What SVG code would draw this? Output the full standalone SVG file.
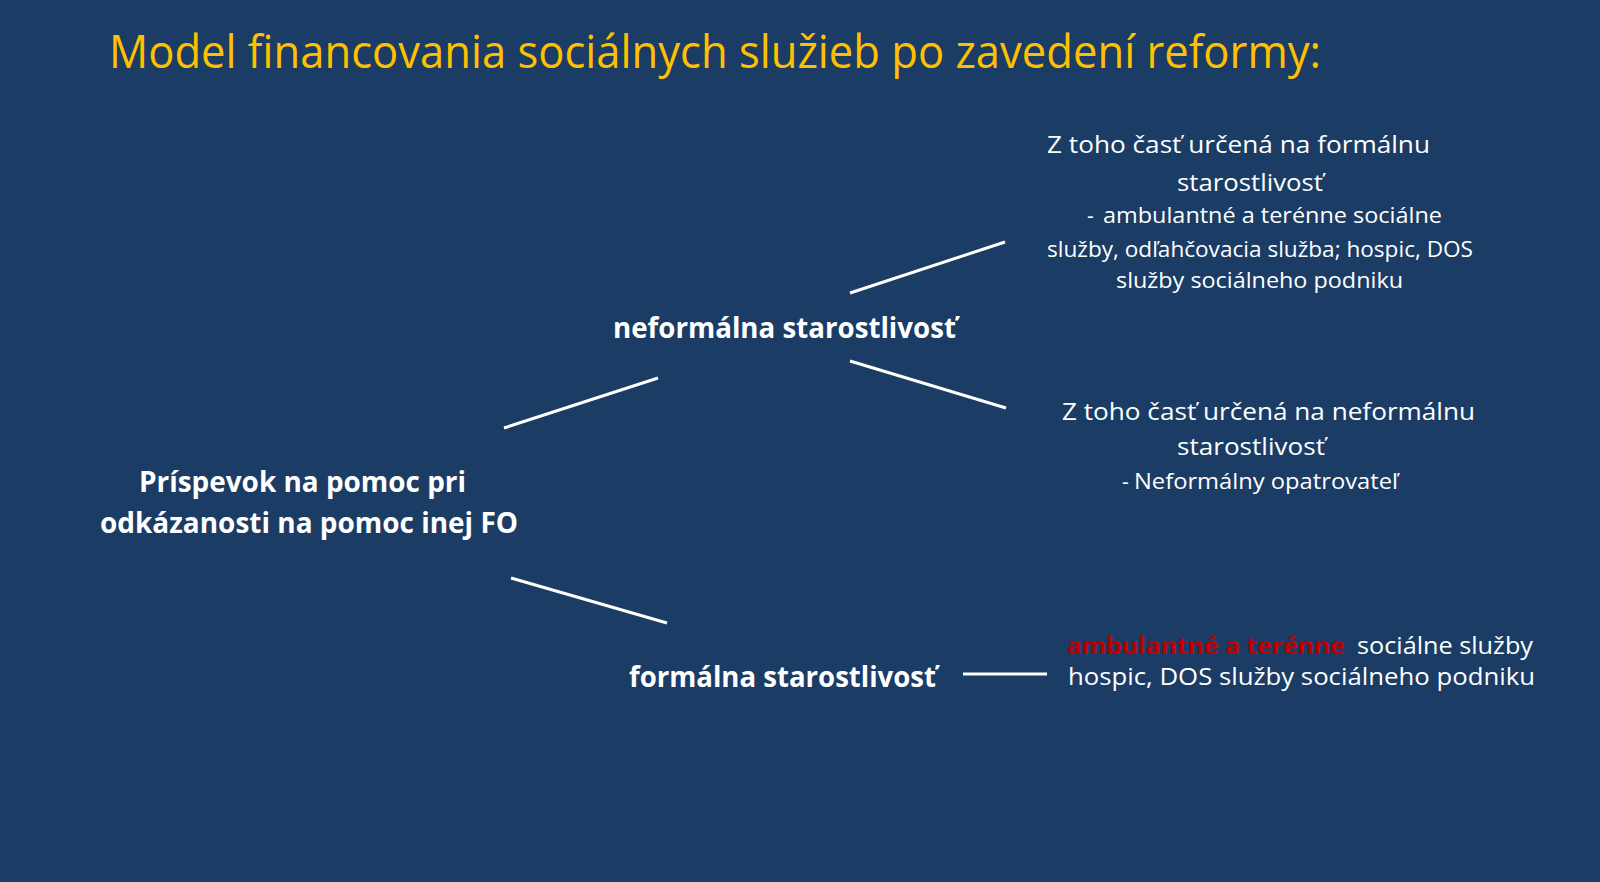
<svg xmlns="http://www.w3.org/2000/svg" width="1600" height="882" viewBox="0 0 1600 882">
<style>
.t{font-family:"Open Sans","Noto Sans","Liberation Sans",sans-serif;fill:#FFFFFF}
.b{font-weight:bold;font-size:28px}
.l{font-size:24px}
.s{font-size:21px}
.m{font-size:23px}
.red{fill:#C00000;font-weight:bold}
.title{font-family:"Open Sans","Noto Sans","Liberation Sans",sans-serif;font-size:45px;fill:#FFC000}
.c line{stroke:#FFFFFF;stroke-width:3;stroke-linecap:butt}
</style>
<rect x="0" y="0" width="1600" height="882" fill="#1A3C65"/>
<text class="title" x="109" y="68" textLength="1212" lengthAdjust="spacingAndGlyphs">Model financovania sociálnych služieb po zavedení reformy:</text>
<g id="connectors" class="c">
<line x1="504" y1="428" x2="658" y2="378"/>
<line x1="511" y1="578" x2="667" y2="623"/>
<line x1="850" y1="293" x2="1005" y2="242"/>
<line x1="850" y1="361" x2="1006" y2="408"/>
<line x1="963" y1="674" x2="1047" y2="674"/>
</g>
<g id="root">
<text class="t b" x="139" y="492" textLength="327" lengthAdjust="spacingAndGlyphs">Príspevok na pomoc pri</text>
<text class="t b" x="100" y="533" textLength="418" lengthAdjust="spacingAndGlyphs">odkázanosti na pomoc inej FO</text>
</g>
<g id="neformalna">
<text class="t b" x="613" y="338" textLength="343" lengthAdjust="spacingAndGlyphs">neformálna starostlivosť</text>
</g>
<g id="formalna">
<text class="t b" x="629" y="687" textLength="307" lengthAdjust="spacingAndGlyphs">formálna starostlivosť</text>
</g>
<g id="formalna-cast">
<text class="t l" x="1047" y="153" textLength="383" lengthAdjust="spacingAndGlyphs">Z toho časť určená na formálnu</text>
<text class="t l" x="1177" y="191" textLength="146" lengthAdjust="spacingAndGlyphs">starostlivosť</text>
<text class="t s" x="1087" y="223">-</text>
<text class="t s" x="1103" y="223" textLength="339" lengthAdjust="spacingAndGlyphs">ambulantné a terénne sociálne</text>
<text class="t s" x="1047" y="257" textLength="426" lengthAdjust="spacingAndGlyphs">služby, odľahčovacia služba; hospic, DOS</text>
<text class="t s" x="1116" y="288" textLength="287" lengthAdjust="spacingAndGlyphs">služby sociálneho podniku</text>
</g>
<g id="neformalna-cast">
<text class="t l" x="1062" y="420" textLength="413" lengthAdjust="spacingAndGlyphs">Z toho časť určená na neformálnu</text>
<text class="t l" x="1177" y="455" textLength="148" lengthAdjust="spacingAndGlyphs">starostlivosť</text>
<text class="t s" x="1122" y="489">-</text>
<text class="t s" x="1134" y="489" textLength="264" lengthAdjust="spacingAndGlyphs">Neformálny opatrovateľ</text>
</g>
<g id="formalna-sluzby">
<text class="t m" y="654"><tspan class="red" x="1067" textLength="278" lengthAdjust="spacingAndGlyphs">ambulantné a terénne</tspan><tspan x="1357" textLength="176" lengthAdjust="spacingAndGlyphs">sociálne služby</tspan></text>
<text class="t m" x="1068" y="685" textLength="467" lengthAdjust="spacingAndGlyphs">hospic, DOS služby sociálneho podniku</text>
</g>
</svg>
